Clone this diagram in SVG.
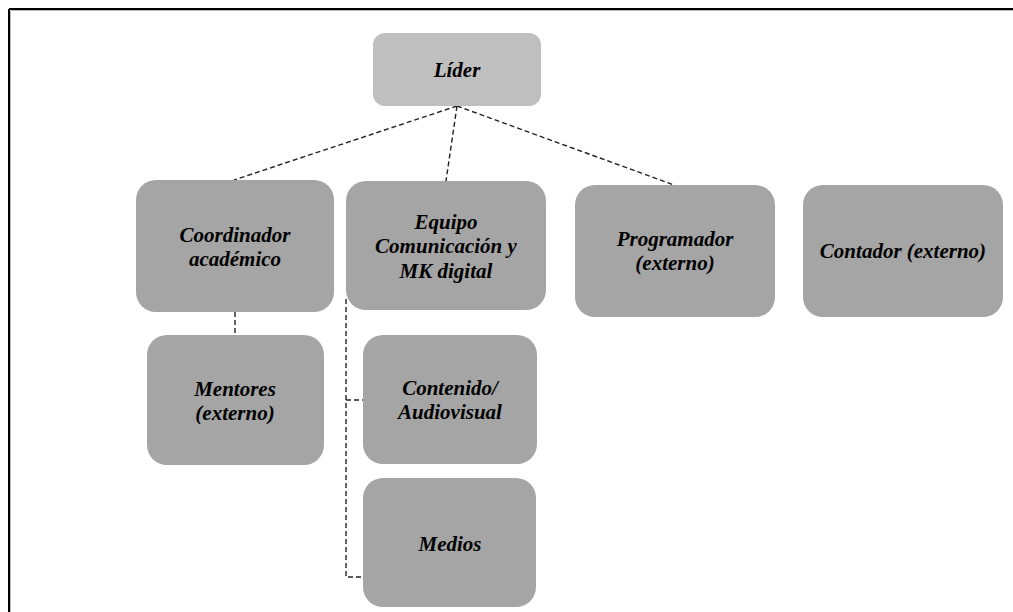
<svg xmlns="http://www.w3.org/2000/svg" width="1013" height="612" viewBox="0 0 1013 612">
  <style>
    .box { fill: #a5a5a5; }
    .lead { fill: #bfbfbf; }
    .lbl { font-family: "Liberation Serif", "Times New Roman", serif; font-size: 21px; font-weight: bold; font-style: italic; fill: #000; text-anchor: middle; }
    .link { fill: none; stroke: #222; stroke-width: 1.4; stroke-dasharray: 5 3; }
    .frame { stroke: #000; stroke-width: 2; }
  </style>
  <rect x="0" y="0" width="1013" height="612" fill="#fff"/>
  <!-- frame (top and left edges only) -->
  <line class="frame" x1="9" y1="9" x2="1013" y2="9"/>
  <line class="frame" x1="9" y1="9" x2="9" y2="612"/>
  <line x1="11" y1="10.5" x2="1013" y2="10.5" stroke="#bbb" stroke-width="1"/>
  <line x1="10.5" y1="11" x2="10.5" y2="612" stroke="#bbb" stroke-width="1"/>

  <g id="connectors">
    <line class="link" x1="457" y1="106" x2="234" y2="180"/>
    <line class="link" x1="457" y1="106" x2="446" y2="181"/>
    <line class="link" x1="457" y1="106" x2="674" y2="185"/>
    <line class="link" x1="235" y1="312" x2="235" y2="335"/>
    <polyline class="link" points="346,299 346,577 363,577"/>
    <line class="link" x1="346" y1="400" x2="363" y2="400"/>
  </g>

  <g id="lider">
    <rect class="lead" x="373" y="33" width="168" height="73" rx="12"/>
    <text class="lbl" x="457" y="77">Líder</text>
  </g>
  <g id="coordinador">
    <rect class="box" x="136" y="180" width="198" height="132" rx="20"/>
    <text class="lbl" x="235" y="242">Coordinador</text>
    <text class="lbl" x="235" y="266">académico</text>
  </g>
  <g id="equipo">
    <rect class="box" x="346" y="181" width="200" height="129" rx="20"/>
    <text class="lbl" x="446" y="229">Equipo</text>
    <text class="lbl" x="446" y="253">Comunicación y</text>
    <text class="lbl" x="446" y="278">MK digital</text>
  </g>
  <g id="programador">
    <rect class="box" x="575" y="185" width="200" height="132" rx="20"/>
    <text class="lbl" x="675" y="246">Programador</text>
    <text class="lbl" x="675" y="270">(externo)</text>
  </g>
  <g id="contador">
    <rect class="box" x="803" y="185" width="200" height="132" rx="20"/>
    <text class="lbl" x="903" y="258">Contador (externo)</text>
  </g>
  <g id="mentores">
    <rect class="box" x="147" y="335" width="177" height="130" rx="20"/>
    <text class="lbl" x="235" y="396">Mentores</text>
    <text class="lbl" x="235" y="420">(externo)</text>
  </g>
  <g id="contenido">
    <rect class="box" x="363" y="335" width="174" height="129" rx="20"/>
    <text class="lbl" x="450" y="395">Contenido/</text>
    <text class="lbl" x="450" y="419">Audiovisual</text>
  </g>
  <g id="medios">
    <rect class="box" x="363" y="478" width="173" height="129" rx="20"/>
    <text class="lbl" x="450" y="551">Medios</text>
  </g>
</svg>
